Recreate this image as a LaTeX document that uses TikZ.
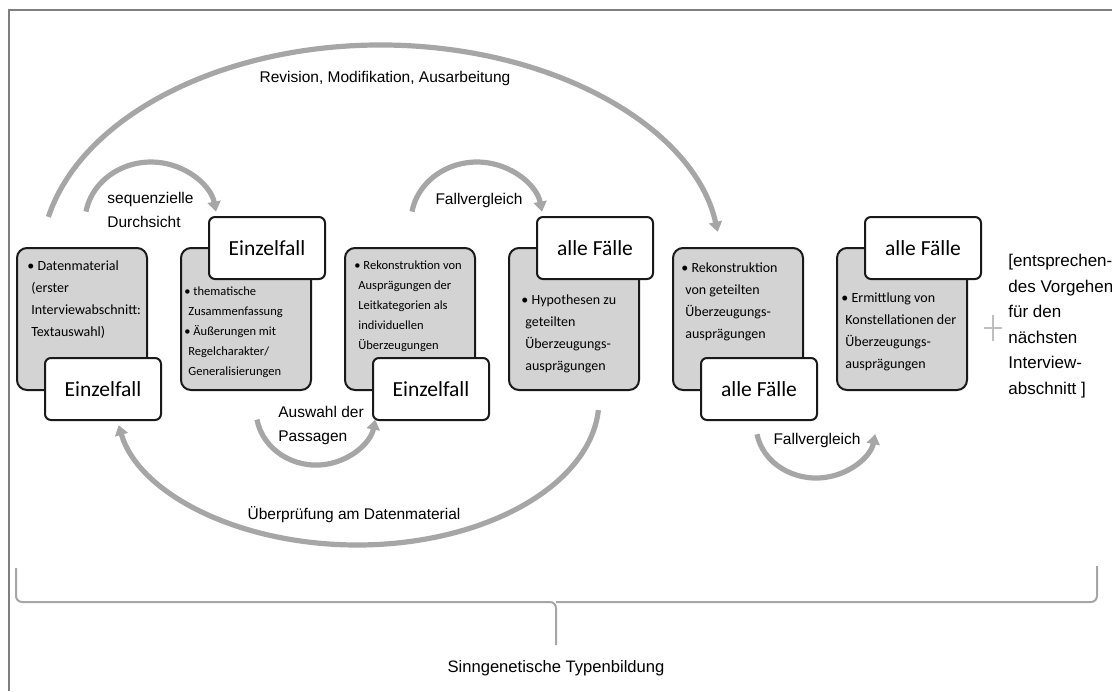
\documentclass[tikz,border=0pt]{standalone}
\usepackage{fontspec}
\setmainfont{Liberation Sans}
\newfontfamily\calibri{Carlito}
\usetikzlibrary{arrows.meta}

\definecolor{bogengrau}{HTML}{A6A6A6}
\definecolor{kastengrau}{HTML}{D3D3D3}
\definecolor{rahmengrau}{HTML}{7F7F7F}
\newcommand\ein{\hspace*{2pt}}

\tikzset{
  kasten/.style={draw=black!90, fill=kastengrau, line width=1pt, rounded corners=5pt,
    minimum width=65pt, minimum height=71pt, inner sep=0pt},
  fall/.style={draw=black!90, fill=white, line width=1pt, rounded corners=3pt,
    minimum width=58pt, minimum height=31pt, inner sep=0pt,
    font=\calibri\fontsize{10.75}{12}\selectfont},
  kleintext/.style={font=\calibri\fontsize{7}{11}\selectfont, align=left,
    inner sep=0pt, anchor=north west},
  engtext/.style={font=\calibri\fontsize{6.25}{10}\selectfont, align=left,
    inner sep=0pt, anchor=north west},
  beschriftung/.style={font=\fontsize{7.75}{12.25}\selectfont, align=left, inner sep=0pt},
  bogen/.style={draw=bogengrau, line width=2.6pt, -{Triangle[length=5pt,width=6.5pt]}},
  klammer/.style={draw=bogengrau, line width=1pt, rounded corners=3},
  rahmen/.style={draw=rahmengrau, line width=0.75pt}
}

\begin{document}
\begin{tikzpicture}[x=0.5pt,y=0.5pt]
\useasboundingbox (0,0) rectangle (1112,-691);
\draw[rahmen] (9,-691) -- (9,-10) -- (1112,-10);

% grey boxes
\node[kasten] (g1) at (82,-319) {};
\node[kasten] (g2) at (246,-319) {};
\node[kasten] (g3) at (410,-319) {};
\node[kasten] (g4) at (574,-319) {};
\node[kasten] (g5) at (738,-319) {};
\node[kasten] (g6) at (902,-319) {};

% white labels
\node[fall] (w1) at (103,-389) {Einzelfall};
\node[fall] (w2) at (267,-248) {Einzelfall};
\node[fall] (w3) at (431,-389) {Einzelfall};
\node[fall] (w4) at (595,-248) {alle Fälle};
\node[fall] (w5) at (759,-389) {alle Fälle};
\node[fall] (w6) at (923,-248) {alle Fälle};

% box texts
\node[kleintext] (t1) at ([shift={(11,-13.5)}]g1.north west)
  {• Datenmaterial\\\ein(erster\\\ein Interviewabschnitt:\\\ein Textauswahl)};
\node[engtext] (t2) at ([shift={(4,-39)}]g2.north west)
  {• thematische\\\ein Zusammenfassung\\• Äußerungen mit\\\ein Regelcharakter/\\\ein Generalisierungen};
\node[engtext] (t3) at ([shift={(10,-13)}]g3.north west)
  {• Rekonstruktion von\\\ein Ausprägungen der\\\ein Leitkategorien als\\\ein individuellen\\\ein Überzeugungen};
\node[kleintext] (t4) at ([shift={(13,-47.5)}]g4.north west)
  {• Hypothesen zu\\\ein geteilten\\\ein Überzeugungs-\\\ein ausprägungen};
\node[kleintext] (t5) at ([shift={(9,-15.5)}]g5.north west)
  {• Rekonstruktion\\\ein von geteilten\\\ein Überzeugungs-\\\ein ausprägungen};
\node[kleintext] (t6) at ([shift={(5,-45.5)}]g6.north west)
  {• Ermittlung von\\\ein Konstellationen der\\\ein Überzeugungs-\\\ein ausprägungen};

% arcs
\coordinate (revA) at (48.4,-216.9);
\coordinate (seqA) at (86,-211.6);
\coordinate (fv1A) at (412,-211.6);
\coordinate (ausA) at (257,-419.6);
\coordinate (fv2A) at (757,-434.2);
\coordinate (uebA) at (598.4,-410.1);
\draw[bogen] (revA) arc[start angle=168, end angle=8, x radius=340, y radius=217];
\draw[bogen] (seqA) arc[start angle=170, end angle=10, x radius=66, y radius=60];
\draw[bogen] (fv1A) arc[start angle=170, end angle=10, x radius=66, y radius=60];
\draw[bogen] (ausA) arc[start angle=190, end angle=350, x radius=60, y radius=55];
\draw[bogen] (fv2A) arc[start angle=190, end angle=350, x radius=60, y radius=53];
\draw[bogen] (uebA) arc[start angle=-4, end angle=-170, x radius=242, y radius=145];

% labels
\node[beschriftung] (rev) at (385,-78) {Revision, Modifikation, Ausarbeitung};
\node[beschriftung, anchor=west] (seq) at (107,-210) {sequenzielle\\Durchsicht};
\node[beschriftung] (fv1) at (479,-200) {Fallvergleich};
\node[beschriftung, anchor=west] (aus) at (278,-425.5) {Auswahl der\\Passagen};
\node[beschriftung] (fv2) at (817,-440) {Fallvergleich};
\node[beschriftung] (ueb) at (354,-515) {Überprüfung am Datenmaterial};

% plus and next step
\coordinate (plus) at (993,-328);
\draw[draw=black!25, line width=1pt] ([shift={(-9,0)}]plus) -- ([shift={(9,0)}]plus)
  ([shift={(0,-13)}]plus) -- ([shift={(0,13)}]plus);
\node[font=\fontsize{8.5}{12.8}\selectfont, align=left, inner sep=0pt, anchor=west] (naechst)
  at (1008,-326) {[entsprechen-\\des Vorgehen\\für den\\nächsten\\Interview-\\abschnitt ]};

% brace
\coordinate (spitze) at (556,-645);
\draw[klammer] (16,-568) -- (16,-602) -- (556,-602) -- (spitze);
\draw[klammer] (1097,-566) -- (1097,-602) -- (556,-602);
\node[font=\fontsize{8.3}{10}\selectfont, inner sep=0pt] (typ) at (556,-668) {Sinngenetische Typenbildung};
\end{tikzpicture}
\end{document}
